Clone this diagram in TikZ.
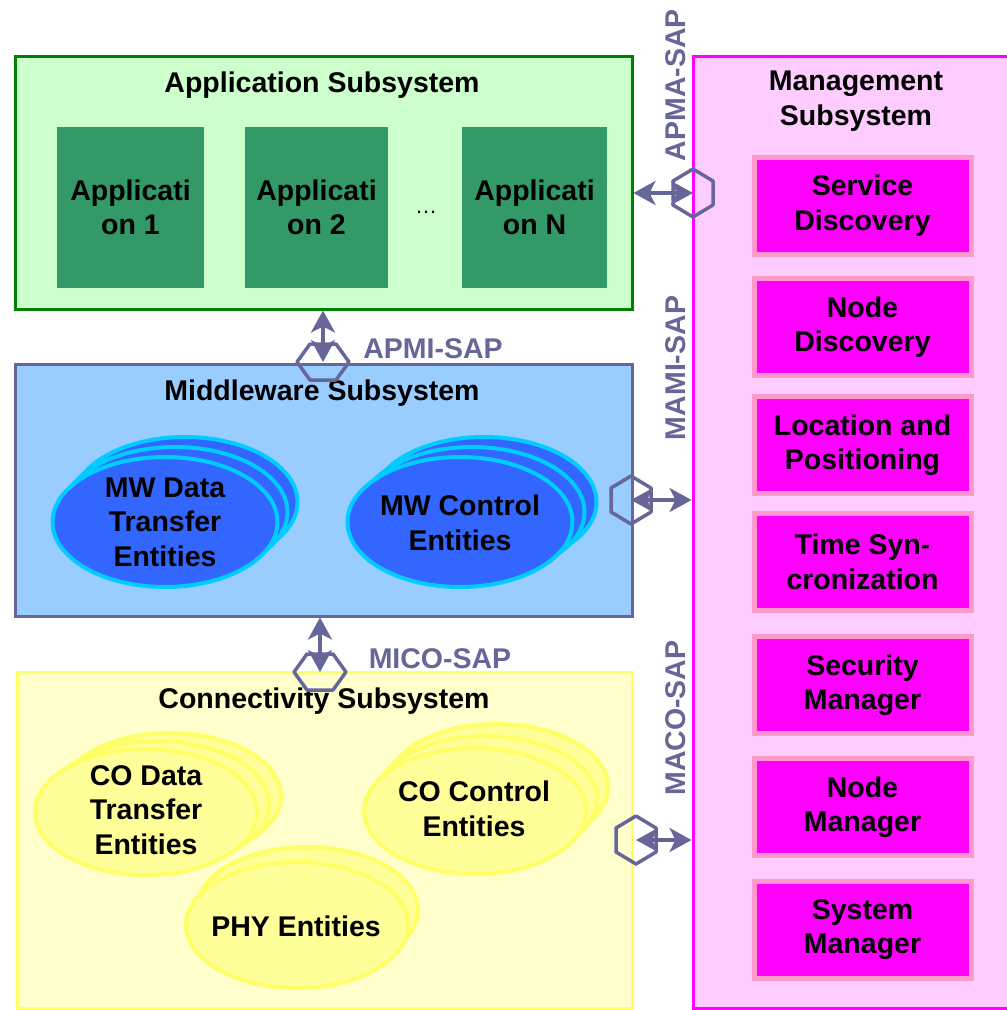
\documentclass[tikz,border=0pt]{standalone}
\usepackage{fontspec}
\setmainfont{Liberation Sans}
\usetikzlibrary{positioning,shapes.geometric,arrows.meta}

\definecolor{appfill}{HTML}{CCFFCC}
\definecolor{appline}{HTML}{008000}
\definecolor{appdark}{HTML}{339966}
\definecolor{mwfill}{HTML}{99CCFF}
\definecolor{sapcol}{HTML}{666699}
\definecolor{mwblue}{HTML}{3366FF}
\definecolor{mwcyan}{HTML}{00CCFF}
\definecolor{cofill}{HTML}{FFFFCC}
\definecolor{coline}{HTML}{FFFF66}
\definecolor{coell}{HTML}{FFFF99}
\definecolor{mafill}{HTML}{FFCCFF}
\definecolor{maline}{HTML}{FF00FF}
\definecolor{maedge}{HTML}{FF99CC}

\tikzset{
  txt/.style={font=\fontsize{28.5}{34.5}\selectfont\bfseries, align=center, inner sep=1pt},
  subsys/.style={rectangle, line width=3pt, inner sep=0pt},
  appbox/.style={txt, rectangle, fill=appdark, minimum height=161pt},
  mwent/.style={ellipse, draw=mwcyan, fill=mwblue, line width=4pt, minimum width=225pt, minimum height=130pt, inner sep=0pt},
  coent/.style={ellipse, draw=coline, fill=coell, line width=4pt, minimum width=222pt, minimum height=126pt, inner sep=0pt},
  mabox/.style={txt, rectangle, fill=maline, draw=maedge, line width=5pt, minimum width=217pt, minimum height=97pt},
  saplbl/.style={txt, text=sapcol},
  saparrow/.style={draw=sapcol, line width=3.5pt, {Stealth[length=22pt, width=24pt, inset=6pt]}-{Stealth[length=22pt, width=24pt, inset=6pt]}},
  hexup/.pic={\draw[sapcol, line width=3.5pt, line join=round] (0,-24) -- (20,-12) -- (20,12) -- (0,24) -- (-20,12) -- (-20,-12) -- cycle;},
  hexflat/.pic={\draw[sapcol, line width=3.5pt, line join=round] (-26,0) -- (-13,-18) -- (13,-18) -- (26,0) -- (13,18) -- (-13,18) -- cycle;}
}

\begin{document}
\begin{tikzpicture}[x=1pt, y=-1pt]
    \useasboundingbox (0,0) rectangle (1007,1010);

    % Subsystems
    \node[subsys, fill=appfill, draw=appline, minimum width=617pt, minimum height=253pt] (appsys) at (323.5,182.5) {};
    \node[subsys, fill=mwfill, draw=sapcol, minimum width=617pt, minimum height=252pt] (mwsys) at (323.5,490) {};
    \node[subsys, fill=cofill, draw=coline, minimum width=615pt, minimum height=336pt] (cosys) at (324.5,840) {};
    \node[subsys, fill=mafill, draw=maline, minimum width=340pt, minimum height=952pt] (masys) at (863,532) {};

    \node[txt] (apptitle) at (322,85) {Application Subsystem};
    \node[txt] (mwtitle) at (322,393) {Middleware Subsystem};
    \node[txt] (cotitle) at (324,701) {Connectivity Subsystem};
    \node[txt] (matitle) at (856,101) {Management\\Subsystem};

    % Applications
    \node[appbox, minimum width=147pt] (app1) at (130.5,207.5) {Applicati\\on 1};
    \node[appbox, minimum width=143pt] (app2) at (316.5,207.5) {Applicati\\on 2};
    \node[appbox, minimum width=145pt] (appn) at (534.5,207.5) {Applicati\\on N};
    \node[font=\fontsize{22}{22}\selectfont] (dots) at (426,212) {\dots};

    % Middleware entities
    \node[mwent] (mwdata3) at (185,502) {};
    \node[mwent] (mwdata2) at (175,512) {};
    \node[mwent] (mwdata) at (165,522) {};
    \node[txt] at (mwdata) {MW Data\\Transfer\\Entities};

    \node[mwent] (mwctrl3) at (484,502) {};
    \node[mwent] (mwctrl2) at (472,512) {};
    \node[mwent] (mwctrl) at (460,522) {};
    \node[txt] at (460,523) {MW Control\\Entities};

    % Connectivity entities
    \node[coent] (codata3) at (170,796) {};
    \node[coent] (codata2) at (158,804) {};
    \node[coent] (codata) at (146,812) {};
    \node[txt] at (146,810) {CO Data\\Transfer\\Entities};

    \node[coent] (coctrl3) at (497,787) {};
    \node[coent] (coctrl2) at (486,799) {};
    \node[coent] (coctrl) at (475,811) {};
    \node[txt] at (474,809) {CO Control\\Entities};

    \node[coent] (phy2) at (307,910) {};
    \node[coent] (phy) at (297,925) {};
    \node[txt] at (296,926) {PHY Entities};

    % Management entities
    \foreach \n/\y/\t in {sd/205.5/{Service\\Discovery}, nd/327/{Node\\Discovery},
        lp/445/{Location and\\Positioning}, ts/562/{Time Syn-\\cronization},
        sm/685/{Security\\Manager}, nm/807/{Node\\Manager}, sysm/929.5/{System\\Manager}}
        \node[mabox] (\n) at (862.5,\y) {\t};

    % SAP labels
    \node[saplbl, rotate=90] (apmalbl) at (676,85) {APMA-SAP};
    \node[saplbl, rotate=90] (mamilbl) at (676,368) {MAMI-SAP};
    \node[saplbl, rotate=90] (macolbl) at (676,718) {MACO-SAP};
    \node[saplbl] (apmilbl) at (433,349) {APMI-SAP};
    \node[saplbl] (micolbl) at (440,659) {MICO-SAP};

    % SAPs
    \coordinate (apma) at (693,193);
    \coordinate (apmi) at (323,362);
    \coordinate (mami) at (631,500);
    \coordinate (mico) at (320,672);
    \coordinate (maco) at (636,840);
    \pic at (apma) {hexup};
    \pic at (apmi) {hexflat};
    \pic at (mami) {hexup};
    \pic at (mico) {hexflat};
    \pic at (maco) {hexup};

    \draw[saparrow] (appsys.east |- apma) -- (apma);
    \draw[saparrow] (appsys.south -| apmi) -- (apmi);
    \draw[saparrow] (mami) -- (masys.west |- mami);
    \draw[saparrow] (mwsys.south -| mico) -- (mico);
    \draw[saparrow] (maco) -- (masys.west |- maco);
\end{tikzpicture}
\end{document}
